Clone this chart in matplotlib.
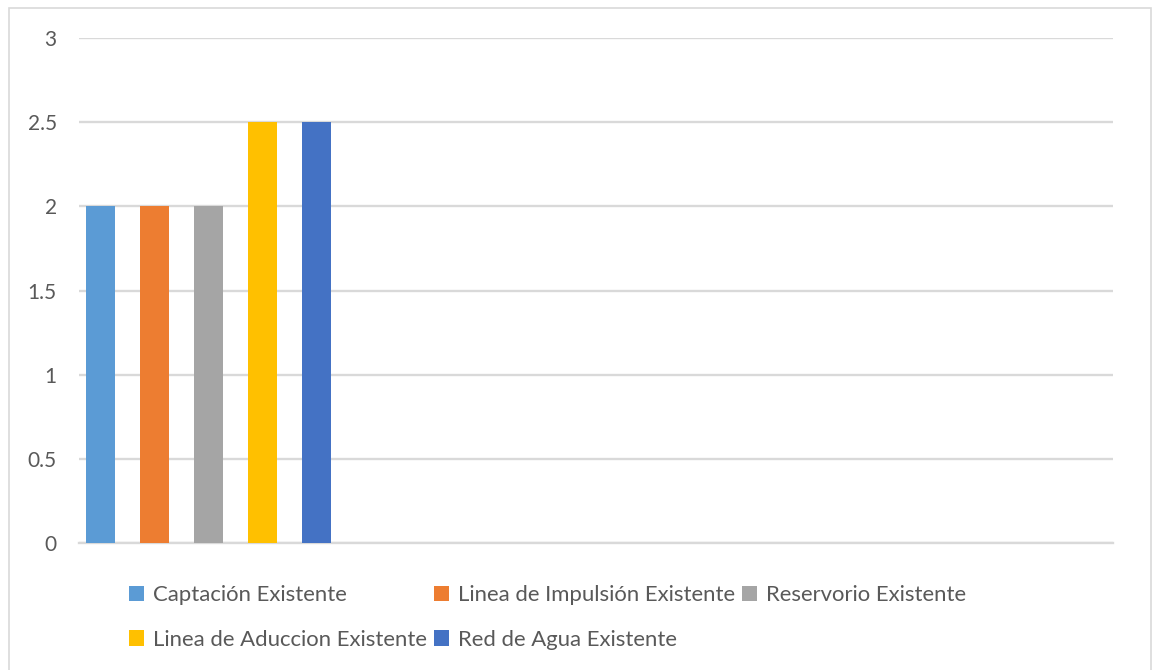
import matplotlib
matplotlib.use("Agg")
import matplotlib.pyplot as plt
from matplotlib.patches import Rectangle

series = ["Captación Existente", "Linea de Impulsión Existente", "Reservorio Existente",
          "Linea de Aduccion Existente", "Red de Agua Existente"]
values = [2, 2, 2, 2.5, 2.5]
colors = ["#5B9BD5", "#ED7D31", "#A5A5A5", "#FFC000", "#4472C4"]
yticks = [0, 0.5, 1, 1.5, 2, 2.5, 3]
ytick_labels = ["0", "0.5", "1", "1.5", "2", "2.5", "3"]

plt.rcParams['font.family'] = ['Lato', 'DejaVu Sans']
W, H = 1159, 670
fig = plt.figure(figsize=(W/100, H/100), dpi=100)
fig.patch.set_facecolor("white")

# outer border
fig.patches.append(Rectangle((9/W, -0.05), (1151-9)/W, (670-8)/H + 0.05, transform=fig.transFigure,
                             fill=False, edgecolor="#D9D9D9", linewidth=1.2))

ax = fig.add_axes([79/W, (670-543)/H, (1113-79)/W, (543-38)/H])
unit = 54.0
x0 = (100.5 - 79) / unit
ax.set_xlim(-x0, (1113-79)/unit - x0)
ax.set_ylim(0, 3)
bars = []
for i, (s, v, c) in enumerate(zip(series, values, colors)):
    b = ax.bar(i, v, width=0.55, color=c, label=s, zorder=3)
    bars.append(b)

ax.set_yticks(yticks)
ax.set_yticklabels(ytick_labels)
ax.grid(axis="y", color="#D9D9D9", linewidth=1.7, zorder=0)
ax.set_xticks([])
for sp in ["top", "right", "left"]:
    ax.spines[sp].set_visible(False)
ax.spines["bottom"].set_color("#D9D9D9")
ax.spines["bottom"].set_linewidth(1.7)
ax.tick_params(axis="y", length=0, pad=16, labelsize=15, labelcolor="#595959")
for lab in ax.get_yticklabels():
    lab.set_horizontalalignment("right")

order = [0, 3, 1, 4, 2]
leg = fig.legend([bars[i] for i in order], [series[i] for i in order], ncol=3,
                 loc="upper left", bbox_to_anchor=(129/W, 1 - 585/H), frameon=False,
                 fontsize=15.9, labelcolor="#595959", handlelength=0.7, handleheight=0.7,
                 handletextpad=0.4, columnspacing=0.3, labelspacing=1.12, borderpad=0,
                 borderaxespad=0)

fig.savefig("out.png", dpi=100)
